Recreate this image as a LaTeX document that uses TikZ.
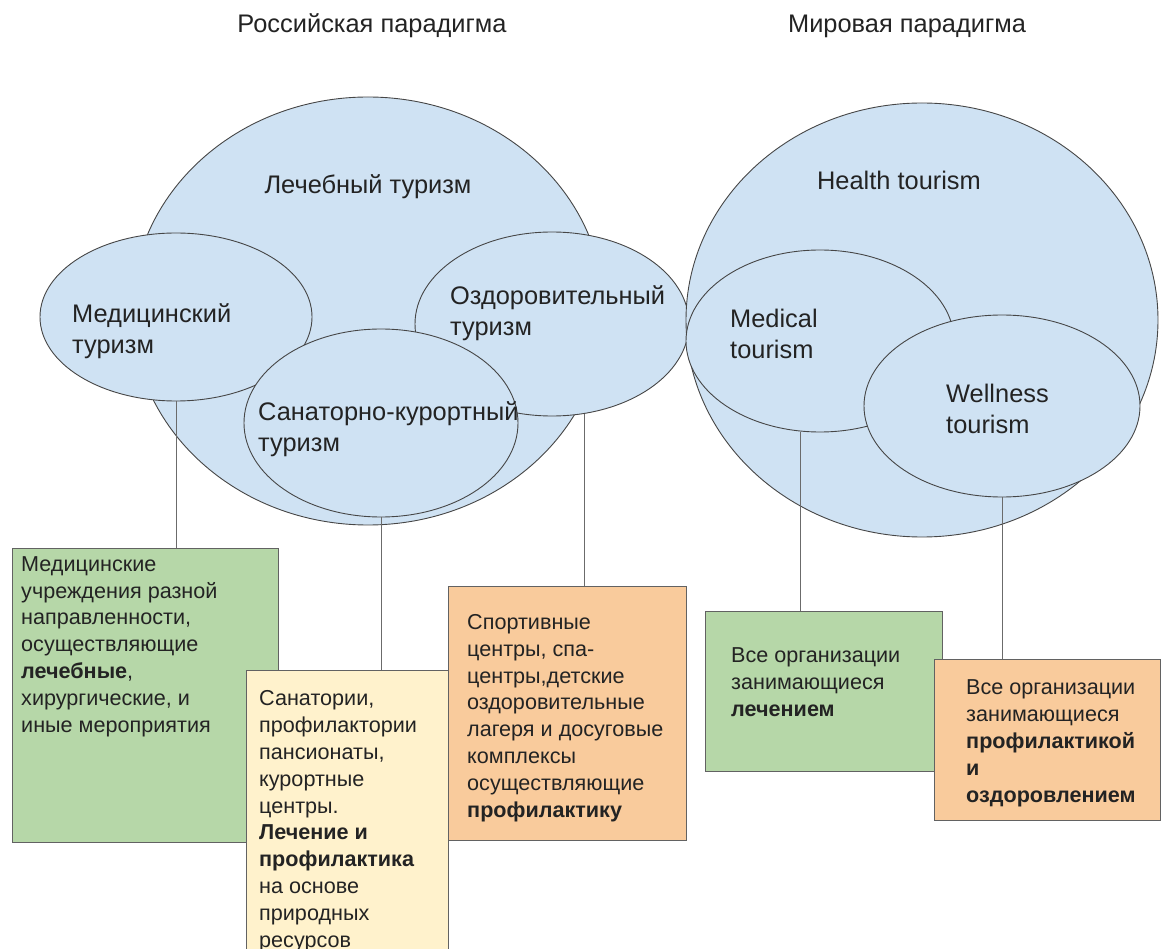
\documentclass[tikz,border=0pt]{standalone}
\usepackage{fontspec}
\setmainfont{Liberation Sans}
\definecolor{setfill}{RGB}{207, 226, 243}
\definecolor{greenfill}{RGB}{182, 215, 168}
\definecolor{yellowfill}{RGB}{255, 242, 204}
\definecolor{orangefill}{RGB}{249, 203, 156}
\definecolor{edgegray}{RGB}{70, 70, 70}
\definecolor{ink}{RGB}{35, 35, 35}
\usetikzlibrary{shapes.geometric, calc}
\tikzset{
    every node/.style={text=ink},
    tourset/.style={ellipse, draw=edgegray, fill=setfill, line width=0.9pt,
        inner sep=0pt},
    setlabel/.style={anchor=base west, align=left, inner sep=0pt,
        font=\fontsize{25.4}{31}\selectfont},
    orgbox/.style={rectangle, draw=edgegray!85, line width=0.9pt,
        inner sep=0pt, anchor=north west},
    orglabel/.style={anchor=base west, align=left, inner sep=0pt,
        font=\fontsize{21.6}{26.8}\selectfont},
    link/.style={draw=edgegray!80, line width=0.8pt},
}

\begin{document}
\begin{tikzpicture}[x=1pt, y=-1pt]
        \useasboundingbox (0, 0) rectangle (1163, 949);
        % titles
        \node[anchor=base, font=\fontsize{25.4}{31}\selectfont] (rutitle)
            at (372, 33) {Российская парадигма};
        \node[anchor=base, font=\fontsize{25.4}{31}\selectfont] (worldtitle)
            at (907, 33) {Мировая парадигма};
        % russian paradigm
        \node[tourset, minimum width=472, minimum height=428] (lech)
            at (368, 311) {};
        \node[tourset, minimum width=272, minimum height=168] (med)
            at (176, 317) {};
        \node[tourset, minimum width=274, minimum height=184] (ozd)
            at (552, 324) {};
        \node[tourset, minimum width=274, minimum height=188] (san)
            at (381, 423) {};
        \node[setlabel, anchor=base] at (368, 194) {Лечебный туризм};
        \node[setlabel] at (72, 354) {Медицинский\\туризм};
        \node[setlabel] at (450, 336) {Оздоровительный\\туризм};
        \node[setlabel] at (258, 452) {Санаторно-курортный\\туризм};
        % world paradigm
        \node[tourset, minimum width=472, minimum height=434] (health)
            at (922, 320) {};
        \node[tourset, minimum width=268, minimum height=182] (medical)
            at (820, 341) {};
        \node[tourset, minimum width=276, minimum height=182] (well)
            at (1002, 406) {};
        \node[setlabel, anchor=base] at (899, 190) {Health tourism};
        \node[setlabel] at (730, 359) {Medical\\tourism};
        \node[setlabel] at (946, 434) {Wellness\\tourism};
        % organisations (labels sit on their last line)
        \node[orgbox, fill=greenfill, minimum width=266, minimum height=294]
            (medbox) at (12, 548) {};
        \node[orglabel] at (21, 732) {Медицинские\\учреждения разной\\
            направленности,\\осуществляющие\\\textbf{лечебные},\\
            хирургические, и\\иные мероприятия};
        \node[orgbox, fill=yellowfill, minimum width=202, minimum height=279]
            (sanbox) at (246, 670) {};
        \node[orglabel] at (259, 947) {Санатории,\\профилактории\\
            пансионаты,\\курортные\\центры.\\\textbf{Лечение и}\\
            \textbf{профилактика}\\на основе\\природных\\ресурсов};
        \node[orgbox, fill=orangefill, minimum width=238, minimum height=254]
            (ozdbox) at (448, 586) {};
        \node[orglabel] at (467, 817) {Спортивные\\центры, спа-\\
            центры,детские\\оздоровительные\\лагеря и досуговые\\
            комплексы\\осуществляющие\\\textbf{профилактику}};
        \node[orgbox, fill=greenfill, minimum width=237, minimum height=160]
            (medicalbox) at (705, 611) {};
        \node[orglabel] at (731, 716) {Все организации\\занимающиеся\\
            \textbf{лечением}};
        \node[orgbox, fill=orangefill, minimum width=226, minimum height=161]
            (wellbox) at (934, 659) {};
        \node[orglabel] at (966, 802) {Все организации\\занимающиеся\\
            \textbf{профилактикой}\\\textbf{и}\\\textbf{оздоровлением}};
        % connectors
        \foreach \from/\to in {med.south/medbox, san.south/sanbox,
            ozd.-70/ozdbox, medical.-102/medicalbox, well.south/wellbox}{
            \draw[link] (\from) -- (\from |- \to.north);
        }
    \end{tikzpicture}
\end{document}
